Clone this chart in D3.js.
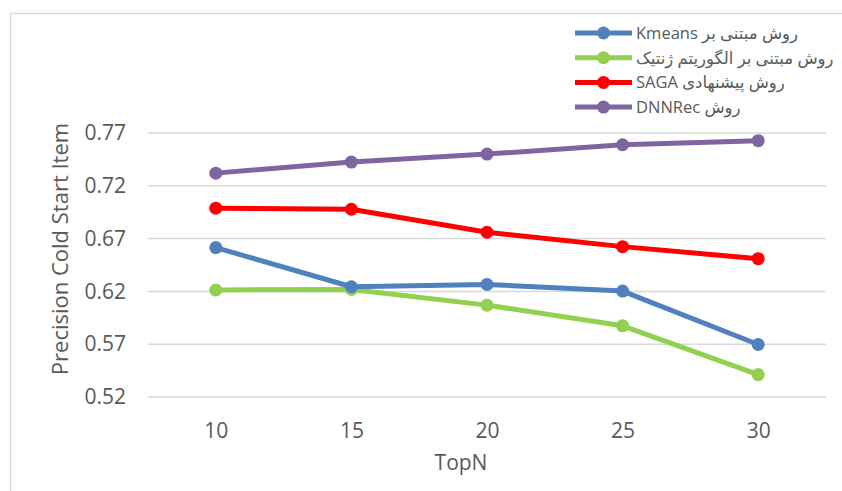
<!DOCTYPE html>
<html>
<head>
<meta charset="utf-8">
<script src="https://cdn.jsdelivr.net/npm/d3@7"></script>
<style>
  body { margin: 0; background: #fff; }
  text { font-family: "Open Sans", "DejaVu Sans", sans-serif; fill: #595959; }
</style>
</head>
<body>
<div id="chart"></div>
<script>
// Data
const topN = [10, 15, 20, 25, 30];
const yTicks = [0.52, 0.57, 0.62, 0.67, 0.72, 0.77];

const kmeansVals  = [0.6615, 0.6244, 0.6266, 0.6203, 0.5697];
const geneticVals = [0.6213, 0.6219, 0.6070, 0.5874, 0.5412];
const sagaVals    = [0.6988, 0.6978, 0.6760, 0.6624, 0.6510];
const dnnrecVals  = [0.7320, 0.7425, 0.7500, 0.7589, 0.7627];

const seriesNames = [
    "روش مبتنی بر Kmeans",
    "روش مبتنی بر الگوریتم ژنتیک",
    "روش پیشنهادی SAGA",
    "روش DNNRec"
];
const seriesColors = ["#4F81BD", "#92D050", "#FF0000", "#8064A2"];

const series = [kmeansVals, geneticVals, sagaVals, dnnrecVals].map((vals, i) => ({
    name: seriesNames[i],
    color: seriesColors[i],
    values: vals.map((v, j) => ({x: topN[j], y: v}))
}));

const width = 842, height = 491;
const plot = {left: 148, right: 826, top: 133, bottom: 397};

const svg = d3.select("#chart").append("svg")
    .attr("width", width)
    .attr("height", height);

// chart frame
svg.append("rect")
    .attr("x", 10.5).attr("y", 13.5)
    .attr("width", 1000).attr("height", 1000)
    .attr("fill", "none")
    .attr("stroke", "#D9D9D9")
    .attr("stroke-width", 1.5);

const x = d3.scalePoint()
    .domain(topN)
    .range([plot.left, plot.right])
    .padding(0.5);

const y = d3.scaleLinear()
    .domain([0.52, 0.77])
    .range([plot.bottom, plot.top]);

// gridlines
svg.append("g")
    .selectAll("line")
    .data(yTicks)
    .enter()
    .append("line")
    .attr("x1", plot.left)
    .attr("x2", plot.right)
    .attr("y1", d => y(d))
    .attr("y2", d => y(d))
    .attr("stroke", "#D9D9D9")
    .attr("stroke-width", 1.5);

// y axis labels
const yAxis = svg.append("g")
    .attr("transform", `translate(${plot.left - 22},0)`)
    .call(d3.axisLeft(y).tickValues(yTicks).tickFormat(d3.format(".2f")).tickSize(0).tickPadding(0));
yAxis.select(".domain").remove();
yAxis.selectAll("text")
    .attr("fill", "#595959")
    .style("font-family", '"Open Sans", sans-serif')
    .style("font-size", "21px");

// x axis labels
const xAxis = svg.append("g")
    .attr("transform", `translate(0,${plot.bottom + 26})`)
    .call(d3.axisBottom(x).tickSize(0).tickPadding(0));
xAxis.select(".domain").remove();
xAxis.selectAll("text")
    .attr("fill", "#595959")
    .style("font-family", '"Open Sans", sans-serif')
    .style("font-size", "21px");

// axis titles
svg.append("text")
    .attr("x", 461)
    .attr("y", 470)
    .attr("text-anchor", "middle")
    .style("font-size", "21px")
    .text("TopN");

svg.append("text")
    .attr("transform", `translate(68, 249) rotate(-90)`)
    .attr("text-anchor", "middle")
    .style("font-size", "22px")
    .text("Precision Cold Start Item");

// lines and markers
const line = d3.line()
    .x(d => x(d.x))
    .y(d => y(d.y));

const drawOrder = [1, 0, 2, 3];
drawOrder.forEach(i => {
    const s = series[i];
    const g = svg.append("g");
    g.append("path")
        .datum(s.values)
        .attr("d", line)
        .attr("fill", "none")
        .attr("stroke", s.color)
        .attr("stroke-width", 5)
        .attr("stroke-linejoin", "round");
    g.selectAll("circle")
        .data(s.values)
        .enter()
        .append("circle")
        .attr("cx", d => x(d.x))
        .attr("cy", d => y(d.y))
        .attr("r", 6.5)
        .attr("fill", s.color);
});

// legend
const legend = svg.append("g")
    .attr("transform", "translate(575, 33)");

series.forEach((s, i) => {
    const row = legend.append("g")
        .attr("transform", `translate(0, ${i * 24.7})`);
    row.append("line")
        .attr("x1", 0).attr("x2", 57)
        .attr("y1", 0).attr("y2", 0)
        .attr("stroke", s.color)
        .attr("stroke-width", 5);
    row.append("circle")
        .attr("cx", 28.5).attr("cy", 0)
        .attr("r", 6.5)
        .attr("fill", s.color);
    row.append("text")
        .attr("x", 61)
        .attr("y", 6)
        .attr("direction", "rtl")
        .attr("text-anchor", "end")
        .style("font-size", "16.5px")
        .text(s.name);
});
</script>
</body>
</html>
